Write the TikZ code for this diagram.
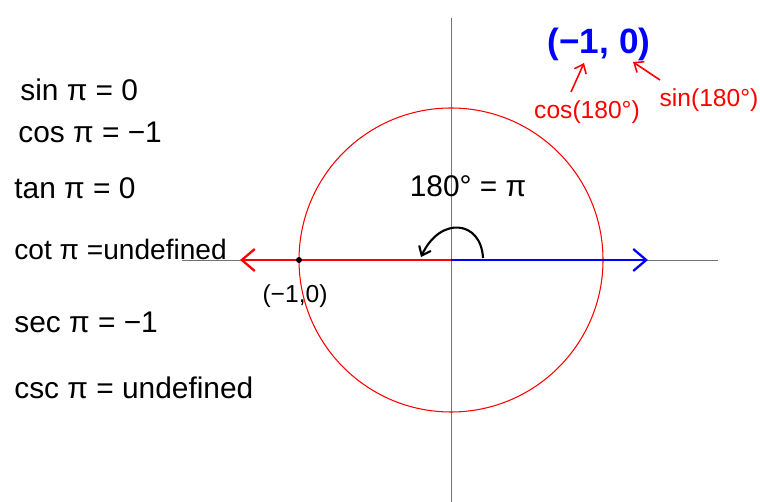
\documentclass[tikz,border=0pt]{standalone}
\usepackage{amsmath,amssymb}
\usepackage{xcolor}
\usepackage{fontspec}
\setmainfont{Liberation Sans}
\usepackage{tikz}
\usetikzlibrary{arrows.meta,positioning}

\begin{document}
\begin{tikzpicture}[
  x=0.02cm, y=-0.02cm,
  lbl/.style={anchor=west, inner sep=0pt, font=\fontsize{17}{19}\selectfont},
  note/.style={inner sep=0pt, font=\fontsize{14}{16}\selectfont, text=red},
  axis/.style={draw=black!55, line width=0.5pt},
  arr/.style={-{Straight Barb[length=2.6mm,width=4.4mm]}, line width=1.3pt},
  parr/.style={-{Straight Barb[length=1.6mm,width=2.6mm]}, line width=0.9pt, red}
]
\useasboundingbox (0,0) rectangle (760,502);
% axes and unit circle
\coordinate (O) at (451,260);
\coordinate (xl) at (182,260);
\coordinate (xr) at (718,260);
\coordinate (yt) at (451,18);
\coordinate (yb) at (451,502);
\draw[axis] (xl) -- (xr);
\draw[axis] (yt) -- (yb);
\draw[red, line width=0.6pt] (O) circle (152);
% rays
\coordinate (tipl) at (240,260);
\coordinate (tipr) at (648,260);
\draw[arr, red] (O) -- (tipl);
\draw[arr, blue] (O) -- (tipr);
\node[circle, fill=black, inner sep=1.2pt] (pt) at (299,260) {};
\node[inner sep=0pt, font=\fontsize{14}{16}\selectfont] (ptlbl) at (295,296) {(−1,0)};
% angle
\coordinate (a1) at (483,258);
\coordinate (a2) at (421,257);
\draw[-{Straight Barb[length=1.6mm,width=2.6mm]}, line width=1.2pt] (a1) .. controls (481,220) and (440,216) .. (a2);
\node[inner sep=0pt, font=\fontsize{17}{19}\selectfont] (ang) at (468,186) {180° = π};
% values
\node[lbl] (sinv) at (20,90) {sin π = 0};
\node[lbl] (cosv) at (18,132) {cos π = −1};
\node[lbl] (tanv) at (14,188) {tan π = 0};
\node[lbl, font=\fontsize{16}{18}\selectfont] (cotv) at (14,249) {cot π =undefined};
\node[lbl] (secv) at (14,322) {sec π = −1};
\node[lbl] (cscv) at (14,388) {csc π = undefined};
% point coordinates
\node[inner sep=0pt, font=\bfseries\fontsize{20}{22}\selectfont, text=blue] (pnt) at (599,44) {(−1, 0)};
\node[note] (cosn) at (587,112) {cos(180°)};
\node[note] (sinn) at (709,100) {sin(180°)};
\coordinate (cost) at (571,92);
\coordinate (cosh) at (584,63);
\coordinate (sint) at (660,80);
\coordinate (sinh) at (633,62);
\draw[parr] (cost) -- (cosh);
\draw[parr] (sint) -- (sinh);
\end{tikzpicture}
\end{document}
